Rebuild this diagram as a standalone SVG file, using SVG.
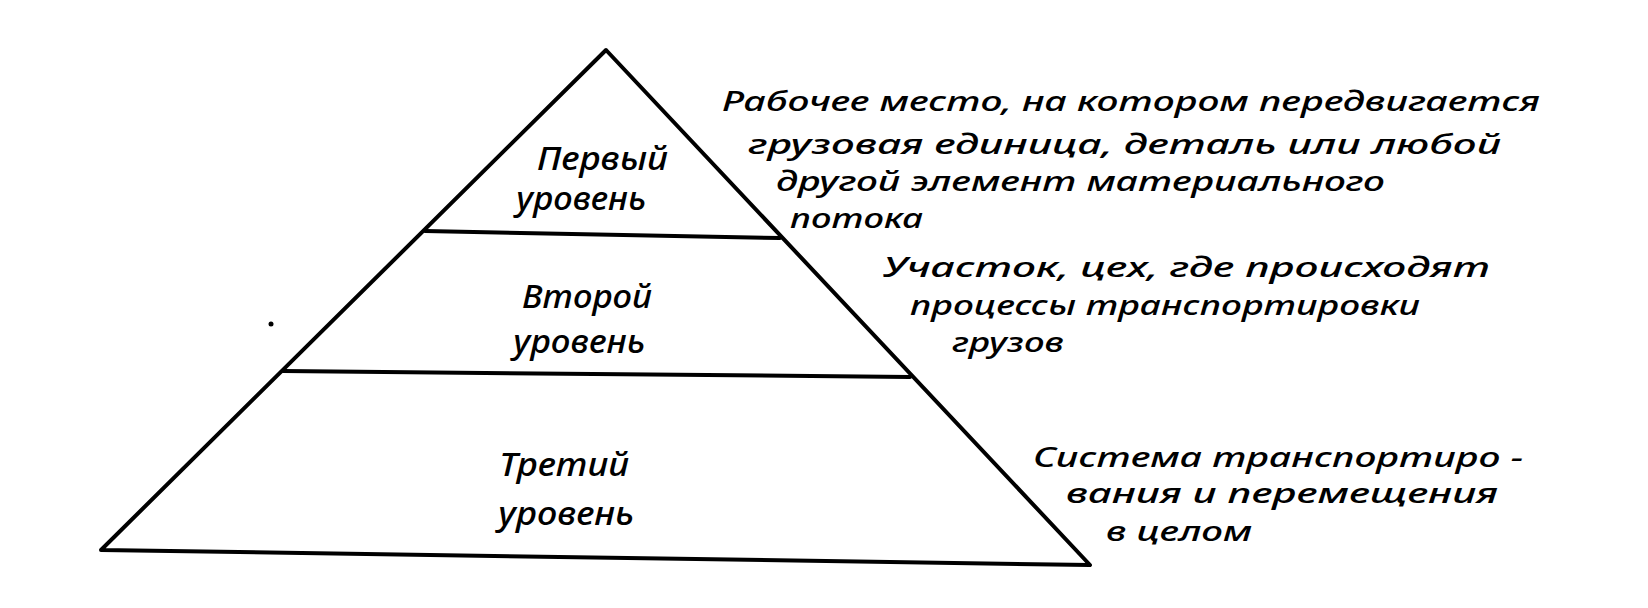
<svg xmlns="http://www.w3.org/2000/svg" width="1648" height="608" viewBox="0 0 1648 608">
<style>
.ln{stroke:#000;stroke-width:4;fill:none;stroke-linecap:round;stroke-linejoin:round}
.t{font-family:"Noto Sans","Open Sans","DejaVu Sans",sans-serif;font-style:italic;fill:#000;font-weight:500}
.lab{font-size:33px}
.desc{font-size:27px}
</style>
<rect width="1648" height="608" fill="#fff"/>
<g id="pyramid">
<path class="ln" d="M101,550 L606,50 L1090,565 Z"/>
<line class="ln" x1="425" y1="231" x2="780" y2="238"/>
<line class="ln" x1="283" y1="371" x2="910" y2="377"/>
<circle cx="271" cy="324" r="2.5" fill="#000"/>
</g>
<g id="level1">
<text class="t lab" x="537" y="170" textLength="131" lengthAdjust="spacingAndGlyphs">Первый</text>
<text class="t lab" x="516" y="210" textLength="130" lengthAdjust="spacingAndGlyphs">уровень</text>
</g>
<g id="level2">
<text class="t lab" x="522" y="308" textLength="130" lengthAdjust="spacingAndGlyphs">Второй</text>
<text class="t lab" x="513" y="353" textLength="132" lengthAdjust="spacingAndGlyphs">уровень</text>
</g>
<g id="level3">
<text class="t lab" x="499" y="476" textLength="130" lengthAdjust="spacingAndGlyphs">Третий</text>
<text class="t lab" x="498" y="525" textLength="136" lengthAdjust="spacingAndGlyphs">уровень</text>
</g>
<g id="desc1">
<text class="t desc" x="722" y="111" textLength="818" lengthAdjust="spacingAndGlyphs">Рабочее место, на котором передвигается</text>
<text class="t desc" x="748" y="154" textLength="753" lengthAdjust="spacingAndGlyphs">грузовая единица, деталь или любой</text>
<text class="t desc" x="776" y="191" textLength="609" lengthAdjust="spacingAndGlyphs">другой элемент материального</text>
<text class="t desc" x="790" y="228" textLength="133" lengthAdjust="spacingAndGlyphs">потока</text>
</g>
<g id="desc2">
<text class="t desc" x="883" y="277" textLength="607" lengthAdjust="spacingAndGlyphs">Участок, цех, где происходят</text>
<text class="t desc" x="910" y="315" textLength="510" lengthAdjust="spacingAndGlyphs">процессы транспортировки</text>
<text class="t desc" x="952" y="352" textLength="112" lengthAdjust="spacingAndGlyphs">грузов</text>
</g>
<g id="desc3">
<text class="t desc" x="1033" y="467" textLength="490" lengthAdjust="spacingAndGlyphs">Система транспортиро -</text>
<text class="t desc" x="1066" y="503" textLength="432" lengthAdjust="spacingAndGlyphs">вания и перемещения</text>
<text class="t desc" x="1106" y="541" textLength="146" lengthAdjust="spacingAndGlyphs">в целом</text>
</g>
<g id="connectors"/>
</svg>
